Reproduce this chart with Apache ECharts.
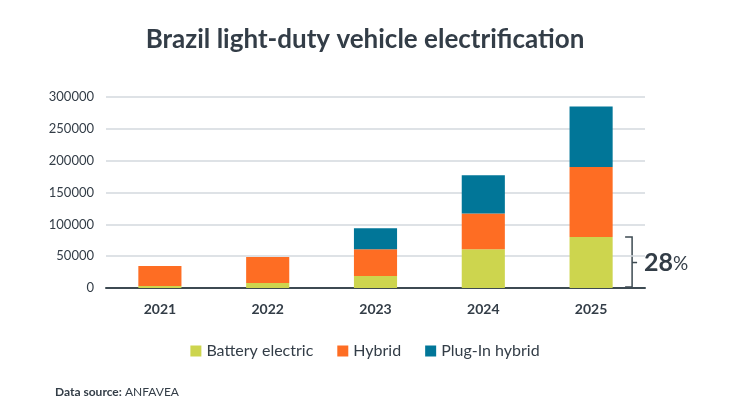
<!DOCTYPE html>
<html><head><meta charset="utf-8">
<script src="https://cdn.jsdelivr.net/npm/echarts@6/dist/echarts.min.js"></script>
<style>html,body{margin:0;padding:0;background:#fff}#c{width:730px;height:411px}</style>
</head><body><div id="c"></div>
<script>
const categories = ['2021', '2022', '2023', '2024', '2025'];
const batteryElectric = [3000, 8000, 19000, 61000, 80000];
const hybrid = [31600, 40800, 42000, 56000, 110000];
const plugInHybrid = [0, 0, 33000, 60000, 95000];
const yTicks = [0, 50000, 100000, 150000, 200000, 250000, 300000];
const shareLabel = '28';

const FONT = 'Lato, "Open Sans", sans-serif';
const TXT = '#333d47';
const chart = echarts.init(document.getElementById('c'));
const sourceText = { type: 'text', left: 55, top: 386,
  style: { text: '{b|Data source:} ANFAVEA', rich: { b: { fontWeight: 'bold', fontFamily: FONT, fontSize: 12, fill: TXT } }, fontFamily: FONT, fontSize: 12, fill: TXT } };
const option = {
  animation: false,
  title: {
    text: 'Brazil light-duty vehicle electrification',
    left: 'center', top: 22,
    textStyle: { fontFamily: FONT, fontSize: 26, fontWeight: 'bold', color: TXT }
  },
  grid: { left: 106, right: 85, top: 97, bottom: 123 },
  legend: {
    bottom: 47, left: 'center',
    itemWidth: 11, itemHeight: 11, itemGap: 24,
    icon: 'rect',
    textStyle: { fontFamily: FONT, fontSize: 16, color: TXT },
    data: ['Battery electric', 'Hybrid', 'Plug-In hybrid']
  },
  xAxis: {
    type: 'category', data: categories,
    axisLine: { lineStyle: { color: '#3d4a52', width: 2 } },
    axisTick: { show: false },
    axisLabel: { fontFamily: FONT, fontSize: 14, fontWeight: 'bold', color: TXT, margin: 14 }
  },
  yAxis: {
    type: 'value', min: yTicks[0], max: yTicks[yTicks.length - 1], interval: yTicks[1] - yTicks[0],
    axisLabel: { fontFamily: FONT, fontSize: 13, color: TXT, margin: 12, formatter: v => String(v) },
    splitLine: { lineStyle: { color: '#d3d8de', width: 1.5 } }
  },
  series: [
    { name: 'Battery electric', type: 'bar', stack: 't', data: batteryElectric, barWidth: '40%', itemStyle: { color: '#cdd54e' } },
    { name: 'Hybrid', type: 'bar', stack: 't', data: hybrid, itemStyle: { color: '#fe6d23' } },
    { name: 'Plug-In hybrid', type: 'bar', stack: 't', data: plugInHybrid, itemStyle: { color: '#017698' } }
  ],
  graphic: [sourceText]
};
chart.setOption(option);

// bracket annotation next to the last bar's battery-electric segment
const last = categories.length - 1;
const p0 = chart.convertToPixel({ seriesIndex: 0 }, [last, 0]);
const p1 = chart.convertToPixel({ seriesIndex: 0 }, [last, batteryElectric[last]]);
const bx = p0[0] + 41;
const ymid = (p0[1] + p1[1]) / 2;
chart.setOption({
  graphic: [
    sourceText,
    { type: 'polyline', shape: { points: [[bx - 7, p1[1]], [bx, p1[1]], [bx, p0[1] - 1], [bx - 7, p0[1] - 1]] },
      style: { stroke: '#3d4a52', lineWidth: 1.5, fill: null } },
    { type: 'line', shape: { x1: bx, y1: ymid, x2: bx + 5, y2: ymid }, style: { stroke: '#3d4a52', lineWidth: 1.5 } },
    { type: 'text', x: bx + 12, y: ymid,
      style: { text: '{a|' + shareLabel + '}{p|%}', verticalAlign: 'middle',
        rich: { a: { fontFamily: FONT, fontSize: 25, fontWeight: 'bold', fill: '#333d47' },
                p: { fontFamily: FONT, fontSize: 19, fill: '#333d47', padding: [3, 0, 0, 0] } } } }
  ]
});
</script></body></html>
